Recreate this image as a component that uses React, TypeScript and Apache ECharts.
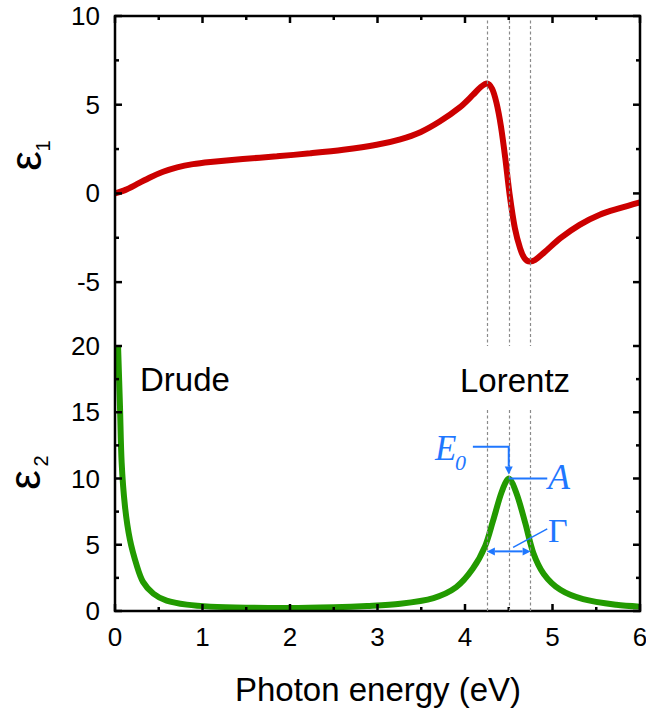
import React, { useEffect, useRef } from "react";
import * as echarts from "echarts";

// ---- data ----
// ε1 (top panel)
const eps1X = [0, 0.12, 0.25, 0.4, 0.55, 0.71, 0.89, 1.09, 1.46, 1.85, 2.23, 2.61, 2.99, 3.26, 3.49, 3.71, 3.94, 4.09, 4.18, 4.25, 4.31, 4.36, 4.41, 4.46, 4.51, 4.57, 4.63, 4.68, 4.74, 4.8, 4.9, 5.09, 5.31, 5.54, 5.77, 6.0];
const eps1Y = [0.0, 0.2, 0.52, 0.9, 1.22, 1.47, 1.65, 1.77, 1.94, 2.09, 2.26, 2.46, 2.74, 3.05, 3.45, 4.05, 4.85, 5.55, 6.0, 6.2, 5.9, 5.1, 3.8, 2.0, -0.06, -1.96, -3.1, -3.65, -3.84, -3.75, -3.35, -2.52, -1.77, -1.2, -0.83, -0.5];

// ε2 (bottom panel)
const eps2X = [0.035, 0.057, 0.076, 0.114, 0.17, 0.25, 0.32, 0.44, 0.59, 0.82, 1.09, 1.5, 2.0, 2.5, 2.88, 3.26, 3.64, 3.9, 4.09, 4.23, 4.32, 4.42, 4.5, 4.59, 4.69, 4.78, 4.9, 5.09, 5.35, 5.73, 6.0];
const eps2Y = [20, 15.4, 11.2, 7.9, 5.4, 3.4, 2.2, 1.3, 0.78, 0.48, 0.33, 0.25, 0.22, 0.28, 0.38, 0.55, 0.98, 1.8, 3.2, 4.9, 6.8, 9.0, 10.0, 8.85, 6.6, 4.4, 2.8, 1.6, 0.9, 0.47, 0.33];

// axis ranges and tick positions
const eps1Range = [-8.6, 10];
const eps2Range = [0, 20];
const energyRange = [0, 6];
const energyTicks = [0, 0.5, 1, 1.5, 2, 2.5, 3, 3.5, 4, 4.5, 5, 5.5, 6];
const eps1Ticks = [-5, -2.5, 0, 2.5, 5, 7.5, 10];
const eps2Ticks = [0, 2.5, 5, 7.5, 10, 12.5, 15, 17.5, 20];
const xTitle = "Photon energy (eV)";

// Lorentz oscillator parameters shown in the figure
const E0 = 4.5;
const A = 10;
const GAMMA = 0.5;
const lorentzLines = [E0 - GAMMA / 2, E0, E0 + GAMMA / 2];

const FONT = '"Liberation Sans", Arial, sans-serif';
const SERIF = '"Liberation Serif", "Times New Roman", serif';
const BLUE = "#1f77ff";
const BLACK = "#000000";
const MAJOR = 7;
const MINOR = 4;

function isMultiple(v: number, step: number) {
  return Math.abs(v / step - Math.round(v / step)) < 1e-9;
}

// frame (axis lines + inward ticks) drawn through the axes' own scales
function frameRenderer(yRange: number[], yTicks: number[], yMajorStep: number, edge: "top" | "bottom") {
  return (_p: any, api: any) => {
    const c = (x: number, y: number) => api.coord([x, y]) as number[];
    const x0 = energyRange[0];
    const x1 = energyRange[1];
    const edgeY = edge === "top" ? yRange[1] : yRange[0];
    const openY = edge === "top" ? yRange[0] : yRange[1];
    const st = { stroke: BLACK, lineWidth: 2.5, fill: null };
    const children: any[] = [
      { type: "polyline", shape: { points: [c(x0, openY), c(x0, edgeY), c(x1, edgeY), c(x1, openY)] }, style: st },
    ];
    const dir = edge === "top" ? 1 : -1;
    for (const v of energyTicks) {
      const len = isMultiple(v, 1) ? MAJOR : MINOR;
      const pt = c(v, edgeY);
      children.push({ type: "line", shape: { x1: pt[0], y1: pt[1], x2: pt[0], y2: pt[1] + dir * len }, style: st });
    }
    for (const v of yTicks) {
      const len = isMultiple(v, yMajorStep) ? MAJOR : MINOR;
      const l = c(x0, v);
      const r = c(x1, v);
      children.push({ type: "line", shape: { x1: l[0], y1: l[1], x2: l[0] + len, y2: l[1] }, style: st });
      children.push({ type: "line", shape: { x1: r[0], y1: r[1], x2: r[0] - len, y2: r[1] }, style: st });
    }
    return { type: "group", children };
  };
}

function renderAnnotations(_params: any, api: any) {
  const p = (x: number, y: number) => api.coord([x, y]) as number[];
  const peak = p(E0, A);
  const bStart = p(4.09, 12.4);
  const bCorner = p(E0, 12.4);
  const tip = p(E0, 10.3);
  const aEnd = p(4.94, A);
  const gL = p(E0 - GAMMA / 2, 4.5);
  const gR = p(E0 + GAMMA / 2, 4.5);
  const gLeadA = p(4.55, 4.8);
  const gLeadB = p(4.94, 6.2);
  const eTxt = p(3.657, 12.26);
  const e0Txt = p(3.886, 11.2);
  const aTxt = p(4.949, 10.15);
  const gTxt = p(4.949, 6.11);
  const drude = p(0.286, 17.47);
  const lorentz = p(3.943, 17.43);
  const ah = 8;
  const aw = 4;
  const blueLine = { stroke: BLUE, lineWidth: 2, fill: null };
  const txt = (t: string, at: number[], font: string, fill: string) => ({
    type: "text",
    style: { text: t, x: at[0], y: at[1], align: "left", verticalAlign: "middle", font, fill },
  });
  return {
    type: "group",
    children: [
      txt("Drude", drude, `33px ${FONT}`, BLACK),
      txt("Lorentz", lorentz, `33px ${FONT}`, BLACK),
      { type: "polyline", shape: { points: [bStart, bCorner, [tip[0], tip[1] - ah]] }, style: blueLine },
      { type: "polygon", shape: { points: [[tip[0], tip[1]], [tip[0] - aw, tip[1] - ah], [tip[0] + aw, tip[1] - ah]] }, style: { fill: BLUE } },
      txt("E", eTxt, `italic 35px ${SERIF}`, BLUE),
      txt("0", e0Txt, `italic 22px ${SERIF}`, BLUE),
      { type: "line", shape: { x1: peak[0], y1: peak[1], x2: aEnd[0], y2: aEnd[1] }, style: blueLine },
      txt("A", aTxt, `italic 36px ${SERIF}`, BLUE),
      { type: "line", shape: { x1: gL[0] + ah, y1: gL[1], x2: gR[0] - ah, y2: gR[1] }, style: blueLine },
      { type: "polygon", shape: { points: [[gL[0], gL[1]], [gL[0] + ah, gL[1] - aw], [gL[0] + ah, gL[1] + aw]] }, style: { fill: BLUE } },
      { type: "polygon", shape: { points: [[gR[0], gR[1]], [gR[0] - ah, gR[1] - aw], [gR[0] - ah, gR[1] + aw]] }, style: { fill: BLUE } },
      { type: "line", shape: { x1: gLeadA[0], y1: gLeadA[1], x2: gLeadB[0], y2: gLeadB[1] }, style: { stroke: BLUE, lineWidth: 1.5 } },
      txt("Γ", gTxt, `34px ${SERIF}`, BLUE),
    ],
  };
}

export default function App() {
  const ref = useRef<HTMLDivElement>(null);

  useEffect(() => {
    const chart = echarts.init(ref.current!, null, { renderer: "svg" });

    const off = () => ({ show: false });
    const label = (margin: number) => ({ show: true, color: BLACK, fontSize: 26, fontFamily: FONT, margin });
    const dashed = { color: "#8a8a8a", width: 1.2, type: [3, 2.5] as any };
    const epsText = (t: string, x: number, y: number, size: number) => ({
      type: "text", x, y, rotation: Math.PI / 2,
      style: { text: t, x: 0, y: 0, align: "center", verticalAlign: "middle", font: `${size}px ${FONT}`, fill: BLACK },
    });
    const hideOdd = (v: number) => (isMultiple(v, 5) ? String(v) : "");

    chart.setOption({
      animation: false,
      grid: [
        { left: 115, top: 16, width: 525, height: 330, outerBoundsMode: "none" },
        { left: 115, top: 346, width: 525, height: 265, outerBoundsMode: "none" },
      ],
      xAxis: [
        {
          type: "value", gridIndex: 0, position: "top", min: energyRange[0], max: energyRange[1], interval: 1,
          axisLine: off(), axisTick: off(), minorTick: off(), axisLabel: off(), splitLine: off(),
        },
        {
          type: "value", gridIndex: 1, position: "bottom", min: energyRange[0], max: energyRange[1], interval: 1,
          axisLine: off(), axisTick: off(), minorTick: off(), axisLabel: label(13), splitLine: off(),
        },
      ],
      yAxis: [
        {
          type: "value", gridIndex: 0, position: "left", min: eps1Range[0], max: eps1Range[1], splitNumber: 4,
          axisLine: off(), axisTick: off(), minorTick: off(),
          axisLabel: { ...label(15), formatter: hideOdd, showMinLabel: false }, splitLine: off(),
        },
        {
          type: "value", gridIndex: 1, position: "left", min: eps2Range[0], max: eps2Range[1], interval: 5,
          axisLine: off(), axisTick: off(), minorTick: off(), axisLabel: label(15), splitLine: off(),
        },
      ],
      graphic: [
        epsText("ε", 25, 161, 44),
        epsText("1", 43, 146, 20),
        epsText("ε", 24, 480, 44),
        epsText("2", 41, 461, 20),
        {
          type: "text", x: 378, y: 689,
          style: { text: xTitle, x: 0, y: 0, align: "center", verticalAlign: "middle", font: `33px ${FONT}`, fill: BLACK },
        },
      ],
      series: [
        {
          name: "ε1", type: "line", xAxisIndex: 0, yAxisIndex: 0,
          data: eps1X.map((x, i) => [x, eps1Y[i]]),
          showSymbol: false, smooth: 0.3, clip: true, z: 2,
          lineStyle: { color: "#cc0000", width: 6 },
          itemStyle: { color: "#cc0000" },
          markLine: {
            silent: true, symbol: ["none", "none"], label: { show: false },
            lineStyle: dashed,
            data: lorentzLines.map((x) => [{ coord: [x, 9.75] }, { coord: [x, eps1Range[0]] }]),
          },
        },
        {
          name: "ε2", type: "line", xAxisIndex: 1, yAxisIndex: 1,
          data: eps2X.map((x, i) => [x, eps2Y[i]]),
          showSymbol: false, smooth: 0.3, clip: true, z: 2,
          lineStyle: { color: "#229a00", width: 6 },
          itemStyle: { color: "#229a00" },
          markLine: {
            silent: true, symbol: ["none", "none"], label: { show: false },
            lineStyle: dashed,
            data: lorentzLines.map((x) => [{ coord: [x, 0] }, { coord: [x, 15.3] }]),
          },
        },
        {
          name: "frame ε1", type: "custom", xAxisIndex: 0, yAxisIndex: 0, clip: false, silent: true, z: 4,
          data: [[energyRange[0], eps1Range[1]]],
          renderItem: frameRenderer(eps1Range, eps1Ticks, 5, "top"),
        },
        {
          name: "frame ε2", type: "custom", xAxisIndex: 1, yAxisIndex: 1, clip: false, silent: true, z: 4,
          data: [[energyRange[0], eps2Range[0]]],
          renderItem: frameRenderer(eps2Range, eps2Ticks, 5, "bottom"),
        },
        {
          name: "annotations", type: "custom", xAxisIndex: 1, yAxisIndex: 1, clip: false,
          data: [[E0, A]], renderItem: renderAnnotations, silent: true, z: 5,
        },
      ],
    });

    return () => chart.dispose();
  }, []);

  return <div ref={ref} style={{ position: "absolute", left: 0, top: 0, width: 646, height: 710 }} />;
}
